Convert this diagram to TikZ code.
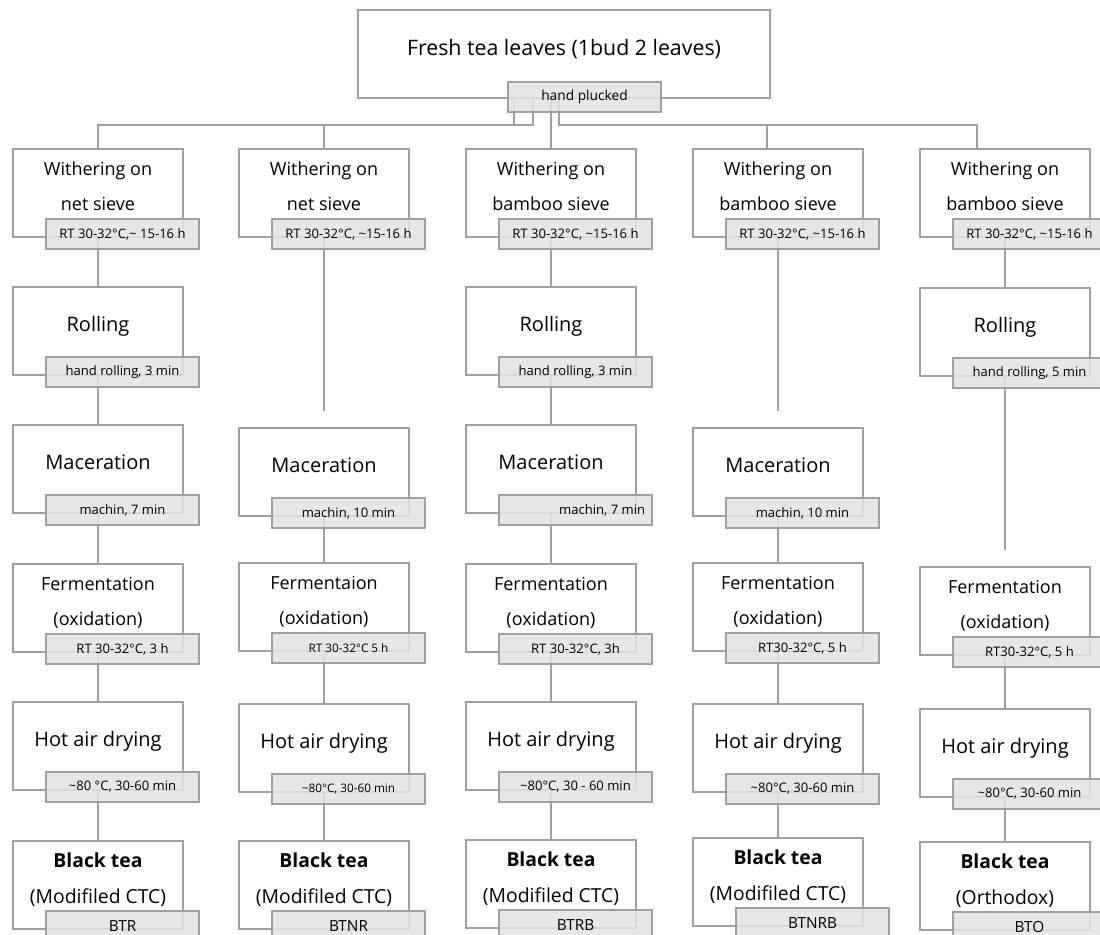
\documentclass[tikz,border=0pt]{standalone}
\usepackage{fontspec}
\setmainfont{Open Sans}
\usetikzlibrary{calc}

\definecolor{linegray}{HTML}{A0A0A0}
\definecolor{taggray}{HTML}{E3E3E3}

\tikzset{
    stepbox/.style={draw=linegray, line width=1.5pt, fill=white, minimum width=127.5pt, minimum height=66pt,
        inner sep=1pt, align=center, font=\fontsize{15}{18}\selectfont,
        execute at end node={\rule[-10pt]{0pt}{0pt}}},
    twoline/.style={font=\fontsize{13.5}{26}\selectfont},
    endbox/.style={font=\fontsize{14.5}{27}\selectfont},
    tag/.style={draw=linegray, line width=1.5pt, fill=taggray, fill opacity=0.85, text opacity=1,
        minimum width=114.75pt, minimum height=22.5pt, inner sep=1pt, anchor=north west,
        font=\fontsize{9.8}{12}\selectfont},
    smalltag/.style={font=\fontsize{8.8}{11}\selectfont},
    codetag/.style={font=\fontsize{11.5}{13}\selectfont},
    link/.style={draw=linegray, line width=1.5pt},
}

\newcommand{\tld}{\textasciitilde}

\begin{document}
\begin{tikzpicture}[x=0.75pt, y=-0.75pt]
    \useasboundingbox (0,0) rectangle (1100,935);

    % start
    \node[stepbox, minimum width=309pt, font=\fontsize{16}{19}\selectfont] (top) at (564,54) {Fresh tea leaves (1bud 2 leaves)};

    % column 1
    \node[stepbox, twoline] (c1w) at (98,193) {Withering on\\net sieve};
    \node[stepbox] (c1r) at (98,331) {Rolling};
    \node[stepbox] (c1m) at (98,469) {Maceration};
    \node[stepbox, twoline] (c1f) at (98,608) {Fermentation\\(oxidation)};
    \node[stepbox] (c1h) at (98,746) {Hot air drying};
    \node[stepbox, endbox] (c1b) at (98,885) {\textbf{Black tea}\\(Modifiled CTC)};

    % column 2
    \node[stepbox, twoline] (c2w) at (324,193) {Withering on\\net sieve};
    \node[stepbox] (c2m) at (324,472) {Maceration};
    \node[stepbox, twoline] (c2f) at (324,607) {Fermentaion\\(oxidation)};
    \node[stepbox] (c2h) at (324,748) {Hot air drying};
    \node[stepbox, endbox] (c2b) at (324,885) {\textbf{Black tea}\\(Modifiled CTC)};

    % column 3
    \node[stepbox, twoline] (c3w) at (551,193) {Withering on\\bamboo sieve};
    \node[stepbox] (c3r) at (551,331) {Rolling};
    \node[stepbox] (c3m) at (551,469) {Maceration};
    \node[stepbox, twoline] (c3f) at (551,608) {Fermentation\\(oxidation)};
    \node[stepbox] (c3h) at (551,746) {Hot air drying};
    \node[stepbox, endbox] (c3b) at (551,884) {\textbf{Black tea}\\(Modifiled CTC)};

    % column 4
    \node[stepbox, twoline] (c4w) at (778,193) {Withering on\\bamboo sieve};
    \node[stepbox] (c4m) at (778,472) {Maceration};
    \node[stepbox, twoline] (c4f) at (778,607) {Fermentation\\(oxidation)};
    \node[stepbox] (c4h) at (778,748) {Hot air drying};
    \node[stepbox, endbox] (c4b) at (778,882) {\textbf{Black tea}\\(Modifiled CTC)};

    % column 5
    \node[stepbox, twoline] (c5w) at (1005,193) {Withering on\\bamboo sieve};
    \node[stepbox] (c5r) at (1005,332) {Rolling};
    \node[stepbox, twoline] (c5f) at (1005,611) {Fermentation\\(oxidation)};
    \node[stepbox] (c5h) at (1005,753) {Hot air drying};
    \node[stepbox, endbox] (c5b) at (1005,886) {\textbf{Black tea}\\(Orthodox)};

    % split from the top box
    \draw[link] ($(top.south)+(-50,0)$) |- ($(c1w.north)+(0,-23)$) -- (c1w.north);
    \draw[link] ($(top.south)+(-31,0)$) |- ($(c2w.north)+(0,-23)$) -- (c2w.north);
    \draw[link] ($(top.south)+(-13,0)$) -- (c3w.north);
    \draw[link] ($(top.south)+(-5,0)$) |- ($(c5w.north)+(-28,-23)$) -- ($(c5w.north)+(-28,0)$);
    \draw[link] ($(c4w.north)+(-11,-23)$) -- ($(c4w.north)+(-11,0)$);

    % links down each column
    \draw[link] (c1w.south) -- (c1r.north);
    \draw[link] (c1r.south) -- (c1m.north);
    \draw[link] (c1m.south) -- (c1f.north);
    \draw[link] (c1f.south) -- (c1h.north);
    \draw[link] (c1h.south) -- (c1b.north);

    \draw[link] (c2w.south) -- ($(c2m.north)+(0,-16)$);
    \draw[link] (c2m.south) -- (c2f.north);
    \draw[link] (c2f.south) -- (c2h.north);
    \draw[link] (c2h.south) -- (c2b.north);

    \draw[link] (c3w.south) -- (c3r.north);
    \draw[link] (c3r.south) -- (c3m.north);
    \draw[link] (c3m.south) -- (c3f.north);
    \draw[link] (c3f.south) -- (c3h.north);
    \draw[link] (c3h.south) -- (c3b.north);

    \draw[link] (c4w.south) -- ($(c4m.north)+(0,-16)$);
    \draw[link] (c4m.south) -- (c4f.north);
    \draw[link] (c4f.south) -- (c4h.north);
    \draw[link] (c4h.south) -- (c4b.north);

    \draw[link] (c5w.south) -- (c5r.north);
    \draw[link] (c5r.south) -- ($(c5f.north)+(0,-16)$);
    \draw[link] (c5f.south) -- (c5h.north);
    \draw[link] (c5h.south) -- (c5b.north);

    % condition tags
    \node[tag, font=\fontsize{10.3}{12}\selectfont] (topt) at ($(top.south west)+(150,-18)$) {hand plucked};

    \node[tag] (c1wt) at ($(c1w.south west)+(33,-20)$) {RT 30-32°C,\tld{} 15-16 h};
    \node[tag] (c1rt) at ($(c1r.south west)+(33,-20)$) {hand rolling, 3 min};
    \node[tag] (c1mt) at ($(c1m.south west)+(33,-20)$) {machin, 7 min};
    \node[tag] (c1ft) at ($(c1f.south west)+(33,-20)$) {RT 30-32°C, 3 h};
    \node[tag] (c1ht) at ($(c1h.south west)+(33,-20)$) {\tld80 °C, 30-60 min};
    \node[tag, codetag] (c1bt) at ($(c1b.south west)+(33,-20)$) {BTR};

    \node[tag] (c2wt) at ($(c2w.south west)+(33,-20)$) {RT 30-32°C, \tld15-16 h};
    \node[tag] (c2mt) at ($(c2m.south west)+(33,-20)$) {machin, 10 min};
    \node[tag, smalltag] (c2ft) at ($(c2f.south west)+(33,-20)$) {RT 30-32°C 5 h};
    \node[tag, smalltag] (c2ht) at ($(c2h.south west)+(33,-20)$) {\tld80°C, 30-60 min};
    \node[tag, codetag] (c2bt) at ($(c2b.south west)+(33,-20)$) {BTNR};

    \node[tag] (c3wt) at ($(c3w.south west)+(33,-20)$) {RT 30-32°C, \tld15-16 h};
    \node[tag] (c3rt) at ($(c3r.south west)+(33,-20)$) {hand rolling, 3 min};
    \node[tag] (c3mt) at ($(c3m.south west)+(33,-20)$) {\hspace*{40pt}machin, 7 min};
    \node[tag] (c3ft) at ($(c3f.south west)+(33,-20)$) {RT 30-32°C, 3h};
    \node[tag] (c3ht) at ($(c3h.south west)+(33,-20)$) {\tld80°C, 30 - 60 min};
    \node[tag, codetag] (c3bt) at ($(c3b.south west)+(33,-20)$) {BTRB};

    \node[tag] (c4wt) at ($(c4w.south west)+(33,-20)$) {RT 30-32°C, \tld15-16 h};
    \node[tag] (c4mt) at ($(c4m.south west)+(33,-20)$) {machin, 10 min};
    \node[tag] (c4ft) at ($(c4f.south west)+(33,-20)$) {RT30-32°C, 5 h};
    \node[tag] (c4ht) at ($(c4h.south west)+(33,-20)$) {\tld80°C, 30-60 min};
    \node[tag, codetag] (c4bt) at ($(c4b.south west)+(43,-20)$) {BTNRB};

    \node[tag] (c5wt) at ($(c5w.south west)+(33,-20)$) {RT 30-32°C, \tld15-16 h};
    \node[tag] (c5rt) at ($(c5r.south west)+(33,-20)$) {hand rolling, 5 min};
    \node[tag] (c5ft) at ($(c5f.south west)+(33,-20)$) {RT30-32°C, 5 h};
    \node[tag] (c5ht) at ($(c5h.south west)+(33,-20)$) {\tld80°C, 30-60 min};
    \node[tag, codetag] (c5bt) at ($(c5b.south west)+(33,-20)$) {BTO};
\end{tikzpicture}
\end{document}
